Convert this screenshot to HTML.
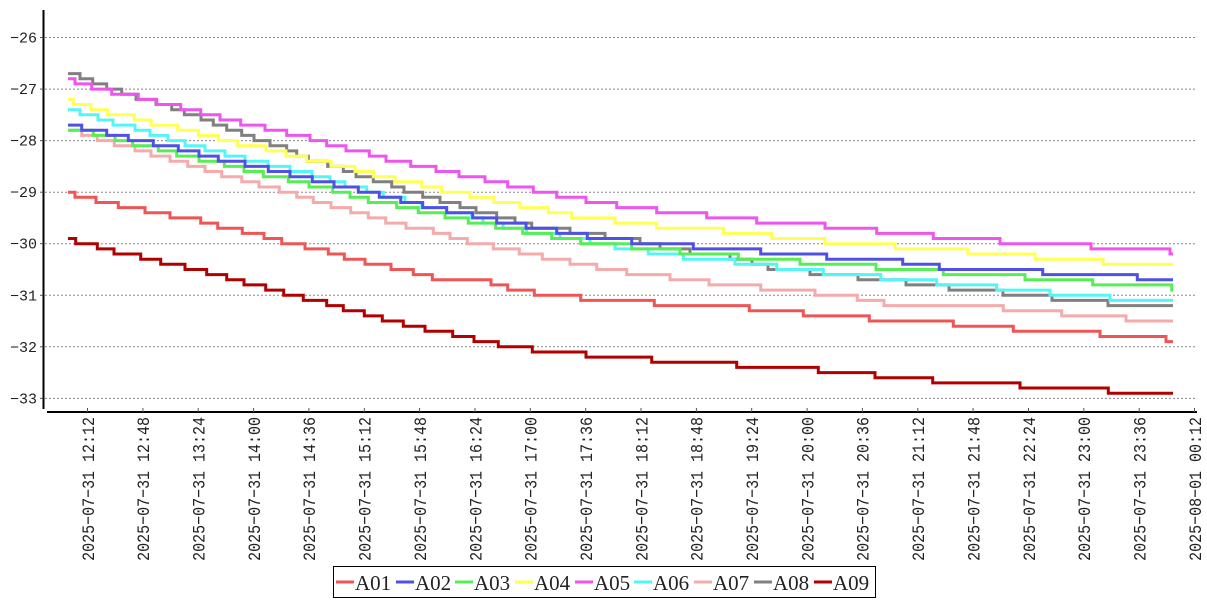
<!DOCTYPE html>
<html>
<head>
<meta charset="utf-8">
<style>
html,body{margin:0;padding:0;background:#fff;}
svg{display:block;}
</style>
</head>
<body>
<svg width="1207" height="600" viewBox="0 0 1207 600" xmlns="http://www.w3.org/2000/svg">
<rect width="1207" height="600" fill="#fff"/>
<!-- grid -->
<g stroke="#888" stroke-width="1" stroke-dasharray="2,2" fill="none">
<line x1="45" y1="37.5" x2="1196" y2="37.5"/>
<line x1="45" y1="89.1" x2="1196" y2="89.1"/>
<line x1="45" y1="140.6" x2="1196" y2="140.6"/>
<line x1="45" y1="192.2" x2="1196" y2="192.2"/>
<line x1="45" y1="243.7" x2="1196" y2="243.7"/>
<line x1="45" y1="295.3" x2="1196" y2="295.3"/>
<line x1="45" y1="346.8" x2="1196" y2="346.8"/>
<line x1="45" y1="398.4" x2="1196" y2="398.4"/>
</g>
<!-- series (reverse order so A01 is on top) -->
<g fill="none" stroke-width="3" stroke-linejoin="miter">
<path stroke="#b00000" d="M68 238.5 H75.7 V243.7 H97.3 V248.9 H114 V254 H140.7 V259.2 H160.7 V264.3 H185 V269.5 H206.7 V274.6 H226.7 V279.8 H244 V284.9 H265.7 V290.1 H283.7 V295.3 H303.3 V300.4 H326.7 V305.6 H343.3 V310.7 H364.3 V315.9 H382.3 V321 H403.3 V326.2 H425 V331.3 H452.7 V336.5 H474 V341.6 H498.3 V346.8 H532.3 V352 H586 V357.1 H651.7 V362.3 H736.7 V367.4 H818.3 V372.6 H875 V377.7 H932.7 V382.9 H1020 V388 H1108.3 V393.2 H1173"/>
<path stroke="#808080" d="M68 73.6 H80 V78.7 H92.7 V83.9 H106.7 V89.1 H121.7 V94.2 H136 V99.4 H156 V104.5 H171.7 V109.7 H184.3 V114.8 H201 V120 H213.3 V125.1 H226.7 V130.3 H241.7 V135.4 H254 V140.6 H270 V145.8 H286.7 V150.9 H296.7 V156.1 H308.3 V161.2 H327.7 V166.4 H343.3 V171.5 H356 V176.7 H373.3 V181.8 H391.7 V187 H404 V192.2 H422.7 V197.3 H440 V202.5 H460 V207.6 H476 V212.8 H496.7 V217.9 H515 V223.1 H531.7 V228.2 H570 V233.4 H605 V238.5 H640 V243.7 H660 V248.9 H690 V254 H730 V259.2 H752 V264.3 H768 V269.5 H810 V274.6 H858 V279.8 H906 V284.9 H949 V290.1 H1003 V295.3 H1052 V300.4 H1108 V305.6 H1173"/>
<path stroke="#f5abab" d="M68 130.3 H81.7 V135.4 H97.3 V140.6 H114.3 V145.8 H135 V150.9 H151 V156.1 H170 V161.2 H187.7 V166.4 H205 V171.5 H221.7 V176.7 H241.7 V181.8 H259 V187 H279.3 V192.2 H296.7 V197.3 H313.3 V202.5 H331 V207.6 H350.7 V212.8 H368.3 V217.9 H385.7 V223.1 H406 V228.2 H433.3 V233.4 H450 V238.5 H467.3 V243.7 H493.3 V248.9 H519.3 V254 H542.3 V259.2 H570 V264.3 H596.7 V269.5 H626.7 V274.6 H670 V279.8 H709 V284.9 H760.7 V290.1 H815 V295.3 H857.3 V300.4 H884 V305.6 H1003.3 V310.7 H1061.7 V315.9 H1126 V321 H1173"/>
<path stroke="#55f5f5" d="M68 109.7 H80 V114.8 H98 V120 H113 V125.1 H135 V130.3 H150 V135.4 H168 V140.6 H185 V145.8 H205 V150.9 H225 V156.1 H245 V161.2 H268 V166.4 H290 V171.5 H312 V176.7 H330 V181.8 H345 V187 H366.7 V192.2 H383.3 V197.3 H405 V202.5 H421.7 V207.6 H446.7 V212.8 H471.7 V217.9 H483 V223.1 H503 V228.2 H526.7 V233.4 H560 V238.5 H590 V243.7 H615 V248.9 H648.3 V254 H683.3 V259.2 H735 V264.3 H776.7 V269.5 H823.3 V274.6 H880.7 V279.8 H936.7 V284.9 H996.7 V290.1 H1050 V295.3 H1110 V300.4 H1173"/>
<path stroke="#ee55ee" d="M68 78.7 H75 V83.9 H91.7 V89.1 H111.7 V94.2 H138.3 V99.4 H156.7 V104.5 H180.7 V109.7 H200.7 V114.8 H220 V120 H240.7 V125.1 H265 V130.3 H286.7 V135.4 H310 V140.6 H326.7 V145.8 H346 V150.9 H369.3 V156.1 H386 V161.2 H410.7 V166.4 H436 V171.5 H459 V176.7 H485 V181.8 H507.7 V187 H533.3 V192.2 H556.7 V197.3 H586 V202.5 H616.7 V207.6 H656.7 V212.8 H706.7 V217.9 H756.7 V223.1 H825 V228.2 H876.7 V233.4 H933.3 V238.5 H1000 V243.7 H1091 V248.9 H1170 V254 H1173"/>
<path stroke="#ffff55" d="M68 99.4 H73.3 V104.5 H91 V109.7 H107.7 V114.8 H134.3 V120 H151 V125.1 H177.7 V130.3 H198.3 V135.4 H218.3 V140.6 H237.7 V145.8 H266 V150.9 H286 V156.1 H306.7 V161.2 H331 V166.4 H355 V171.5 H373.3 V176.7 H395 V181.8 H421.7 V187 H441.7 V192.2 H470 V197.3 H494 V202.5 H520 V207.6 H548.3 V212.8 H571.7 V217.9 H615 V223.1 H656.7 V228.2 H723.3 V233.4 H771.7 V238.5 H825 V243.7 H895 V248.9 H968 V254 H1035 V259.2 H1103 V264.3 H1173"/>
<path stroke="#55ee55" d="M68 130.3 H93.3 V135.4 H115 V140.6 H132.7 V145.8 H158.3 V150.9 H176.7 V156.1 H199 V161.2 H224.3 V166.4 H244 V171.5 H263.3 V176.7 H288.3 V181.8 H309 V187 H332.7 V192.2 H350 V197.3 H368.3 V202.5 H396.7 V207.6 H418.3 V212.8 H445 V217.9 H468.3 V223.1 H495.7 V228.2 H522.7 V233.4 H551.7 V238.5 H580.7 V243.7 H631.7 V248.9 H680 V254 H738.3 V259.2 H800 V264.3 H876 V269.5 H943.3 V274.6 H1025 V279.8 H1092.7 V284.9 H1171.7 V290.1 H1173"/>
<path stroke="#5050e6" d="M68 125.1 H81.7 V130.3 H106.7 V135.4 H128.3 V140.6 H153.3 V145.8 H178.3 V150.9 H199 V156.1 H218.3 V161.2 H245 V166.4 H268.3 V171.5 H290 V176.7 H312.3 V181.8 H334 V187 H358.3 V192.2 H379.3 V197.3 H400.7 V202.5 H422.7 V207.6 H446.7 V212.8 H472.7 V217.9 H496.7 V223.1 H526 V228.2 H556.7 V233.4 H587.3 V238.5 H631.7 V243.7 H693.3 V248.9 H760.7 V254 H826.7 V259.2 H902.7 V264.3 H939.3 V269.5 H1042.7 V274.6 H1137.3 V279.8 H1173"/>
<path stroke="#ef5555" d="M68 192.2 H75 V197.3 H96 V202.5 H118.3 V207.6 H145 V212.8 H170 V217.9 H200.7 V223.1 H217.7 V228.2 H242.3 V233.4 H264 V238.5 H281.7 V243.7 H305 V248.9 H328.3 V254 H344.3 V259.2 H365 V264.3 H391 V269.5 H413.3 V274.6 H432.3 V279.8 H491 V284.9 H507.7 V290.1 H534.3 V295.3 H580.7 V300.4 H654.3 V305.6 H749.3 V310.7 H803.3 V315.9 H869.3 V321 H953.3 V326.2 H1013.3 V331.3 H1100 V336.5 H1166 V341.6 H1173"/>
</g>
<!-- axes -->
<line x1="43.5" y1="10" x2="43.5" y2="409" stroke="#000" stroke-width="2"/>
<line x1="47" y1="412" x2="1197" y2="412" stroke="#000" stroke-width="2"/>
<g stroke="#555" stroke-width="1">
<line x1="40" y1="37.5" x2="43" y2="37.5"/>
<line x1="40" y1="89.1" x2="43" y2="89.1"/>
<line x1="40" y1="140.6" x2="43" y2="140.6"/>
<line x1="40" y1="192.2" x2="43" y2="192.2"/>
<line x1="40" y1="243.7" x2="43" y2="243.7"/>
<line x1="40" y1="295.3" x2="43" y2="295.3"/>
<line x1="40" y1="346.8" x2="43" y2="346.8"/>
<line x1="40" y1="398.4" x2="43" y2="398.4"/>
</g>
<g font-family="'Liberation Mono', monospace" font-size="15" fill="#222" text-anchor="end">
<text x="37" y="42.5">−26</text>
<text x="37" y="94.1">−27</text>
<text x="37" y="145.6">−28</text>
<text x="37" y="197.2">−29</text>
<text x="37" y="248.7">−30</text>
<text x="37" y="300.3">−31</text>
<text x="37" y="351.8">−32</text>
<text x="37" y="403.4">−33</text>
</g>
<!-- x ticks -->
<g stroke="#555" stroke-width="1">
<line x1="87.5" y1="408" x2="87.5" y2="412"/>
<line x1="142.9" y1="408" x2="142.9" y2="412"/>
<line x1="198.2" y1="408" x2="198.2" y2="412"/>
<line x1="253.6" y1="408" x2="253.6" y2="412"/>
<line x1="308.9" y1="408" x2="308.9" y2="412"/>
<line x1="364.3" y1="408" x2="364.3" y2="412"/>
<line x1="419.6" y1="408" x2="419.6" y2="412"/>
<line x1="475" y1="408" x2="475" y2="412"/>
<line x1="530.3" y1="408" x2="530.3" y2="412"/>
<line x1="585.7" y1="408" x2="585.7" y2="412"/>
<line x1="641" y1="408" x2="641" y2="412"/>
<line x1="696.4" y1="408" x2="696.4" y2="412"/>
<line x1="751.7" y1="408" x2="751.7" y2="412"/>
<line x1="807.1" y1="408" x2="807.1" y2="412"/>
<line x1="862.4" y1="408" x2="862.4" y2="412"/>
<line x1="917.8" y1="408" x2="917.8" y2="412"/>
<line x1="973.1" y1="408" x2="973.1" y2="412"/>
<line x1="1028.5" y1="408" x2="1028.5" y2="412"/>
<line x1="1083.8" y1="408" x2="1083.8" y2="412"/>
<line x1="1139.2" y1="408" x2="1139.2" y2="412"/>
<line x1="1194.5" y1="408" x2="1194.5" y2="412"/>
</g>
<g font-family="'Liberation Mono', monospace" font-size="15" fill="#222" text-anchor="end">
<text transform="translate(87.5,417) scale(1.2,1) rotate(-90)" dy="0.35em">2025−07−31 12:12</text>
<text transform="translate(142.9,417) scale(1.2,1) rotate(-90)" dy="0.35em">2025−07−31 12:48</text>
<text transform="translate(198.2,417) scale(1.2,1) rotate(-90)" dy="0.35em">2025−07−31 13:24</text>
<text transform="translate(253.6,417) scale(1.2,1) rotate(-90)" dy="0.35em">2025−07−31 14:00</text>
<text transform="translate(308.9,417) scale(1.2,1) rotate(-90)" dy="0.35em">2025−07−31 14:36</text>
<text transform="translate(364.3,417) scale(1.2,1) rotate(-90)" dy="0.35em">2025−07−31 15:12</text>
<text transform="translate(419.6,417) scale(1.2,1) rotate(-90)" dy="0.35em">2025−07−31 15:48</text>
<text transform="translate(475,417) scale(1.2,1) rotate(-90)" dy="0.35em">2025−07−31 16:24</text>
<text transform="translate(530.3,417) scale(1.2,1) rotate(-90)" dy="0.35em">2025−07−31 17:00</text>
<text transform="translate(585.7,417) scale(1.2,1) rotate(-90)" dy="0.35em">2025−07−31 17:36</text>
<text transform="translate(641,417) scale(1.2,1) rotate(-90)" dy="0.35em">2025−07−31 18:12</text>
<text transform="translate(696.4,417) scale(1.2,1) rotate(-90)" dy="0.35em">2025−07−31 18:48</text>
<text transform="translate(751.7,417) scale(1.2,1) rotate(-90)" dy="0.35em">2025−07−31 19:24</text>
<text transform="translate(807.1,417) scale(1.2,1) rotate(-90)" dy="0.35em">2025−07−31 20:00</text>
<text transform="translate(862.4,417) scale(1.2,1) rotate(-90)" dy="0.35em">2025−07−31 20:36</text>
<text transform="translate(917.8,417) scale(1.2,1) rotate(-90)" dy="0.35em">2025−07−31 21:12</text>
<text transform="translate(973.1,417) scale(1.2,1) rotate(-90)" dy="0.35em">2025−07−31 21:48</text>
<text transform="translate(1028.5,417) scale(1.2,1) rotate(-90)" dy="0.35em">2025−07−31 22:24</text>
<text transform="translate(1083.8,417) scale(1.2,1) rotate(-90)" dy="0.35em">2025−07−31 23:00</text>
<text transform="translate(1139.2,417) scale(1.2,1) rotate(-90)" dy="0.35em">2025−07−31 23:36</text>
<text transform="translate(1194.5,417) scale(1.2,1) rotate(-90)" dy="0.35em">2025−08−01 00:12</text>
</g>
<!-- legend -->
<rect x="333.5" y="566.5" width="542" height="31" fill="#fff" stroke="#000" stroke-width="1"/>
<g stroke-width="3">
<line x1="336" y1="582" x2="354" y2="582" stroke="#ef5555"/>
<line x1="396" y1="582" x2="414" y2="582" stroke="#5050e6"/>
<line x1="455" y1="582" x2="473" y2="582" stroke="#55ee55"/>
<line x1="515" y1="582" x2="533" y2="582" stroke="#ffff55"/>
<line x1="575" y1="582" x2="593" y2="582" stroke="#ee55ee"/>
<line x1="634" y1="582" x2="652" y2="582" stroke="#55f5f5"/>
<line x1="694" y1="582" x2="712" y2="582" stroke="#f5abab"/>
<line x1="754" y1="582" x2="772" y2="582" stroke="#808080"/>
<line x1="814" y1="582" x2="832" y2="582" stroke="#b00000"/>
</g>
<g font-family="'Liberation Serif', serif" font-size="21" fill="#222">
<text x="355" y="590">A01</text>
<text x="415" y="590">A02</text>
<text x="474" y="590">A03</text>
<text x="534" y="590">A04</text>
<text x="594" y="590">A05</text>
<text x="653" y="590">A06</text>
<text x="713" y="590">A07</text>
<text x="773" y="590">A08</text>
<text x="833" y="590">A09</text>
</g>
</svg>
</body>
</html>
